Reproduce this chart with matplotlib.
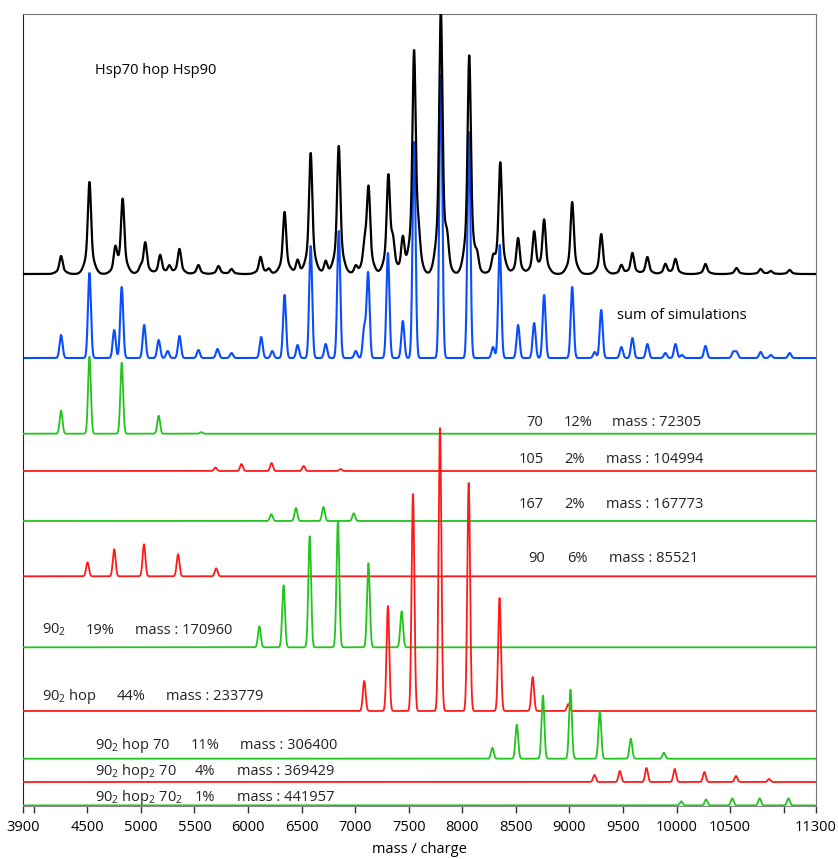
import numpy as np
import matplotlib.pyplot as plt

plt.rcParams['font.family'] = ['Open Sans', 'DejaVu Sans']
plt.rcParams['mathtext.fontset'] = 'custom'
plt.rcParams['mathtext.rm'] = 'Open Sans'

# --- data: peak m/z and peak height (arbitrary units) ---
exp_mz = [4255, 4520, 4761, 4830, 5000, 5041, 5180, 5266, 5360, 5537, 5724, 5846,
          6117, 6195, 6341, 6463, 6585, 6725, 6847, 7006, 7090, 7125, 7310, 7352,
          7445, 7550, 7590, 7800, 7860, 8065, 8140, 8287, 8355, 8521, 8671, 8764,
          9026, 9297, 9485, 9588, 9728, 9896, 9990, 10270, 10560, 10785, 10880, 11056]
exp_int = [18, 92, 24, 74, 5, 31, 19, 8, 25, 9, 8, 5,
           17, 5, 62, 14, 121, 13, 128, 8, 22, 84, 96, 25,
           36, 220, 22, 262, 22, 218, 14, 13, 111, 36, 42, 54,
           72, 40, 9, 21, 17, 10, 15, 10, 6, 5, 3, 4]

sum_mz = [4255, 4520, 4751, 4821, 5031, 5166, 5250, 5360, 5537, 5715, 5846,
          6123, 6226, 6341, 6463, 6585, 6725, 6847, 7006, 7085, 7121, 7306,
          7445, 7550, 7800, 8062, 8287, 8350, 8521, 8671, 8764, 9026, 9236,
          9297, 9485, 9588, 9728, 9896, 9990, 10050, 10270, 10530, 10560,
          10785, 10880, 11056]
sum_int = [23, 85, 28, 71, 33, 18, 7, 22, 8, 9, 5,
           21, 7, 63, 13, 112, 14, 127, 7, 30, 85, 105,
           37, 216, 283, 226, 11, 113, 33, 35, 63, 71, 6,
           48, 11, 20, 14, 5, 14, 3, 12, 6, 6,
           6, 3, 5]

# simulated species
sp70_mz = [4255, 4520, 4821, 5166, 5563]
sp70_int = [23, 77, 71, 18, 1.5]
sp105_mz = [5696, 5939, 6220, 6519, 6865]
sp105_int = [3.5, 7, 8, 5, 2]
sp167_mz = [6217, 6447, 6704, 6987]
sp167_int = [6.7, 13, 14, 7.7]
sp90_mz = [4502, 4751, 5029, 5347, 5703]
sp90_int = [14, 27, 32, 22, 8]
sp90d_mz = [6106, 6332, 6576, 6839, 7124, 7434]
sp90d_int = [21, 62, 111, 125, 84, 36]
sp90dh_mz = [7085, 7306, 7540, 7792, 8060, 8348, 8657, 8990]
sp90dh_int = [30, 105, 217, 283, 228, 113, 34, 7]
sp90dh70_mz = [8281, 8509, 8753, 9010, 9284, 9573, 9882]
sp90dh70_int = [11, 34, 63, 69, 48, 20, 6]
sp90dh2_70_mz = [9234, 9471, 9720, 9983, 10260, 10555, 10864]
sp90dh2_70_int = [7, 11, 14, 13, 10, 6, 3]
sp90dh2_702_mz = [10044, 10276, 10520, 10776, 11045]
sp90dh2_702_int = [4, 6, 7, 7, 7]

species_labels = [
    ["70", "12%", "mass : 72305"],
    ["105", "2%", "mass : 104994"],
    ["167", "2%", "mass : 167773"],
    ["90", "6%", "mass : 85521"],
    ["90$_\\mathregular{2}$", "19%", "mass : 170960"],
    ["90$_\\mathregular{2}$ hop", "44%", "mass : 233779"],
    ["90$_\\mathregular{2}$ hop 70", "11%", "mass : 306400"],
    ["90$_\\mathregular{2}$ hop$_\\mathregular{2}$ 70", "4%", "mass : 369429"],
    ["90$_\\mathregular{2}$ hop$_\\mathregular{2}$ 70$_\\mathregular{2}$", "1%", "mass : 441957"],
]

tick_vals = [3900, 4000, 4500, 5000, 5500, 6000, 6500, 7000, 7500, 8000, 8500,
             9000, 9500, 10000, 10500, 11000, 11300]
tick_text = ["3900", "", "4500", "5000", "5500", "6000", "6500", "7000", "7500",
             "8000", "8500", "9000", "9500", "10000", "10500", "", "11300"]

x = np.linspace(3900, 11300, 7401)


def spectrum(mz, inten, sigma=12.0, tail=0.0, tail_sigma=40.0):
    y = np.zeros_like(x)
    for m, h in zip(mz, inten):
        g = np.exp(-0.5 * ((x - m) / sigma) ** 2)
        if tail:
            g = (1 - tail) * g + tail * np.exp(-0.5 * ((x - m) / tail_sigma) ** 2)
        y += h * g
    return y


GREEN = '#22c41e'
RED = '#ff1a1a'
BLUE = '#0a4dff'

# (mz, intensity, colour, baseline offset)
components = [
    (sp70_mz, sp70_int, GREEN, 372.3),
    (sp105_mz, sp105_int, RED, 335),
    (sp167_mz, sp167_int, GREEN, 285),
    (sp90_mz, sp90_int, RED, 229.7),
    (sp90d_mz, sp90d_int, GREEN, 158.7),
    (sp90dh_mz, sp90dh_int, RED, 95),
    (sp90dh70_mz, sp90dh70_int, GREEN, 47.3),
    (sp90dh2_70_mz, sp90dh2_70_int, RED, 24),
    (sp90dh2_702_mz, sp90dh2_702_int, GREEN, 0.6),
]

fig = plt.figure(figsize=(8.38, 8.59), dpi=100)
ax = fig.add_axes([0.0275, 0.0617, 0.946, 0.922])

ax.plot(x, 532 + spectrum(exp_mz, exp_int, sigma=14, tail=0.25), color='black', lw=1.6, zorder=3)
ax.plot(x, 448 + spectrum(sum_mz, sum_int, sigma=14), color=BLUE, lw=1.5, zorder=2)
for mz, inten, col, off in components:
    ax.plot(x, off + spectrum(mz, inten, sigma=13), color=col, lw=1.3, zorder=4)

fs = 10.5
ax.text(4573, 736, "Hsp70 hop Hsp90", fontsize=fs, va='center')
ax.text(9447, 491, "sum of simulations", fontsize=fs, va='center')

# label positions: (x of name, x of percent, x of mass, y)
label_pos = [
    (8596, 8942, 9400, 384),
    (8530, 8951, 9344, 347),
    (8530, 8951, 9344, 302),
    (8615, 8980, 9372, 248),
    (4078, 4480, 4948, 176),
    (4078, 4770, 5238, 109),
    (4573, 5462, 5921, 60),
    (4573, 5500, 5899, 34),
    (4573, 5500, 5899, 8),
]
for (name, pct, mass), (x1, x2, x3, yy) in zip(species_labels, label_pos):
    for xx, s in ((x1, name), (x2, pct), (x3, mass)):
        ax.text(xx, yy, s, fontsize=fs, va='center', color='#222222')

ax.set_xlim(3900, 11300)
ax.set_ylim(0, 792)
ax.set_yticks([])
ax.set_xticks(tick_vals)
ax.set_xticklabels(tick_text, fontsize=fs)
ax.tick_params(axis='x', direction='out', length=5, width=1, color='#333333', pad=5)
for side in ['top', 'right']:
    ax.spines[side].set_color('#777777')
ax.spines['left'].set_color('#222222')
ax.spines['bottom'].set_color('#888888')
ax.set_xlabel("mass / charge", fontsize=fs, labelpad=5)

plt.savefig("out.png", dpi=100)
